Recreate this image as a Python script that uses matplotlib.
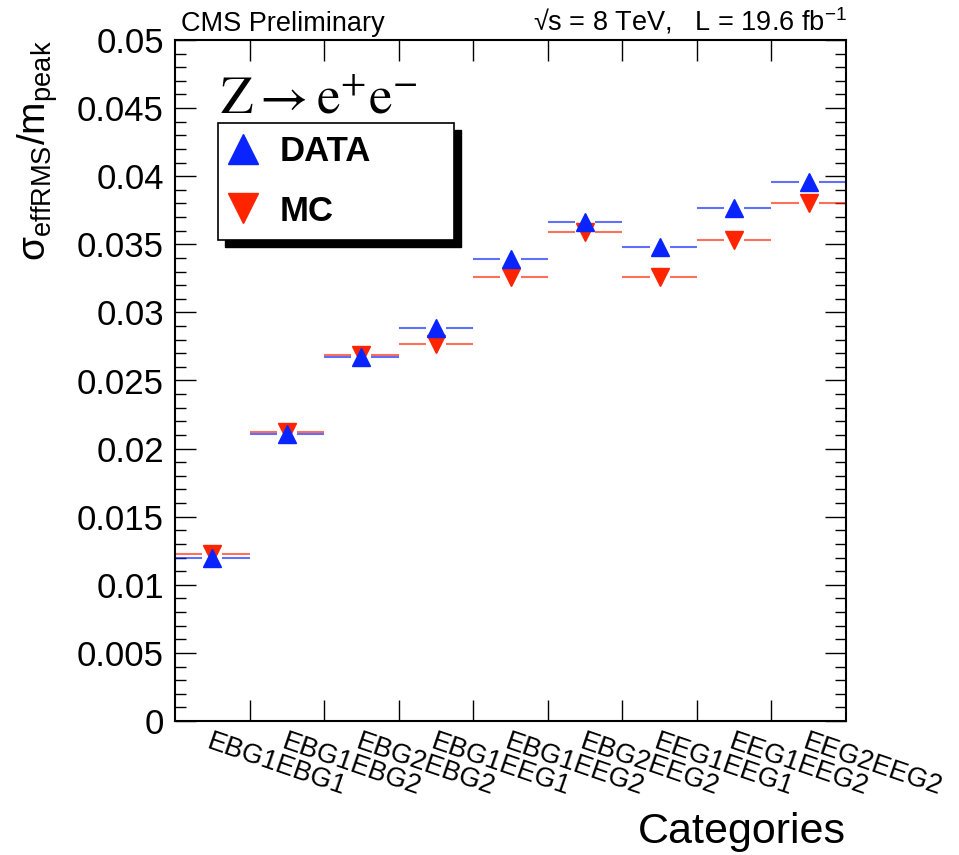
import numpy as np
import matplotlib
matplotlib.use("Agg")
import matplotlib.pyplot as plt
from matplotlib.lines import Line2D
from matplotlib.patches import Rectangle

plt.rcParams['font.family'] = ['Liberation Sans', 'DejaVu Sans']
plt.rcParams['mathtext.fontset'] = 'custom'
plt.rcParams['mathtext.rm'] = 'Liberation Sans'
plt.rcParams['mathtext.it'] = 'Liberation Sans:italic'
plt.rcParams['mathtext.bf'] = 'Liberation Sans:bold'
plt.rcParams['mathtext.sf'] = 'Liberation Sans'

# Categories and resolution values
categories = ["EBG1EBG1", "EBG1EBG2", "EBG2EBG2", "EBG1EEG1", "EBG1EEG2",
              "EBG2EEG2", "EEG1EEG1", "EEG1EEG2", "EEG2EEG2"]
data_vals = [0.01199, 0.02109, 0.02675, 0.02885, 0.03390,
             0.03664, 0.03478, 0.03764, 0.03960]
mc_vals = [0.01224, 0.02120, 0.02685, 0.02768, 0.03262,
           0.03590, 0.03258, 0.03529, 0.03801]
y_ticks = [0, 0.005, 0.01, 0.015, 0.02, 0.025, 0.03, 0.035, 0.04, 0.045, 0.05]

blue = '#0a24ff'
red = '#ff2400'

W, H = 959, 855
fig = plt.figure(figsize=(W / 100, H / 100), dpi=100)
ax = fig.add_axes([175 / W, 1 - 721 / H, (846 - 175) / W, (721 - 40) / H])

n = len(categories)
edges = np.arange(n)
centers = edges + 0.5
gap = 0.135

# horizontal bin-width bars, interrupted around the markers
for vals, col in ((mc_vals, red), (data_vals, blue)):
    v = np.asarray(vals)
    ax.hlines(v, edges, centers - gap, color=col, lw=1.5, alpha=0.65, zorder=2)
    ax.hlines(v, centers + gap, edges + 1, color=col, lw=1.5, alpha=0.65, zorder=2)

ax.plot(centers, mc_vals, ls='none', marker='v', ms=13, color=red,
        mec=red, zorder=3)
ax.plot(centers, data_vals, ls='none', marker='^', ms=13, color=blue,
        mec=blue, zorder=4)

ax.set_xlim(0, n)
ax.set_ylim(0, 0.05)

# axis ticks
ax.set_xticks(edges[1:])
ax.set_xticklabels([])
ax.set_xticks(centers, minor=True)
ax.set_xticklabels(categories, minor=True, rotation=-19, ha='left', va='top',
                   rotation_mode='anchor', fontsize=19.5)
ax.tick_params(axis='x', which='minor', length=0, pad=6)

ax.set_yticks(y_ticks)
ax.set_yticklabels([f"{t:g}" for t in y_ticks], fontsize=25)
ax.set_yticks(np.arange(0, 0.0501, 0.001), minor=True)

ax.tick_params(axis='x', which='major', direction='in', length=15, width=1,
               top=True, bottom=True)
ax.tick_params(axis='y', which='major', direction='in', length=15, width=1,
               left=True, right=True, pad=8)
ax.tick_params(axis='y', which='minor', direction='in', length=7.7, width=1,
               left=True, right=True)
for s in ax.spines.values():
    s.set_linewidth(1.5)

# axis titles
fig.text(38 / W, 1 - 40 / H, "σ$_{\\mathrm{effRMS}}$/m$_{\\mathrm{peak}}$",
         rotation=90, ha='center', va='top', fontsize=28)
fig.text(846 / W, 1 - 852 / H, "Categories", ha='right', va='bottom',
         fontsize=31)

# header
fig.text(181 / W, 1 - 31 / H, "CMS Preliminary", ha='left', va='baseline',
         fontsize=19.5)
fig.text(847 / W, 1 - 31 / H, "√s = 8 TeV,   L = 19.6 fb$^{-1}$",
         ha='right', va='baseline', fontsize=19.5)

# process label
fig.text(220 / W, 1 - 113 / H, r"$\mathrm{Z \rightarrow e^{+}e^{-}}$",
         ha='left', va='baseline', fontsize=38, math_fontfamily='stix')

# legend box with shadow
bx0, by0, bx1, by1 = 218, 123, 454, 240
sh = 7
fig.patches.append(Rectangle(((bx0 + sh) / W, 1 - (by1 + sh) / H),
                             (bx1 - bx0) / W, (by1 - by0) / H,
                             transform=fig.transFigure, facecolor='black',
                             edgecolor='black', zorder=5))
fig.patches.append(Rectangle((bx0 / W, 1 - by1 / H),
                             (bx1 - bx0) / W, (by1 - by0) / H,
                             transform=fig.transFigure, facecolor='white',
                             edgecolor='black', lw=1.2, zorder=6))

handles = [Line2D([], [], ls='none', marker='^', ms=22, color=blue),
           Line2D([], [], ls='none', marker='v', ms=22, color=red)]
leg = fig.legend(handles, ["DATA", "MC"], loc='center left',
                 bbox_to_anchor=(226 / W, 1 - (by0 + by1) / 2 / H),
                 frameon=False, prop={'weight': 'bold', 'size': 25},
                 handlelength=1.0, handletextpad=0.55, labelspacing=0.75,
                 borderpad=0.0, borderaxespad=0.0)
leg.set_zorder(7)

fig.savefig("out.png", dpi=100)
